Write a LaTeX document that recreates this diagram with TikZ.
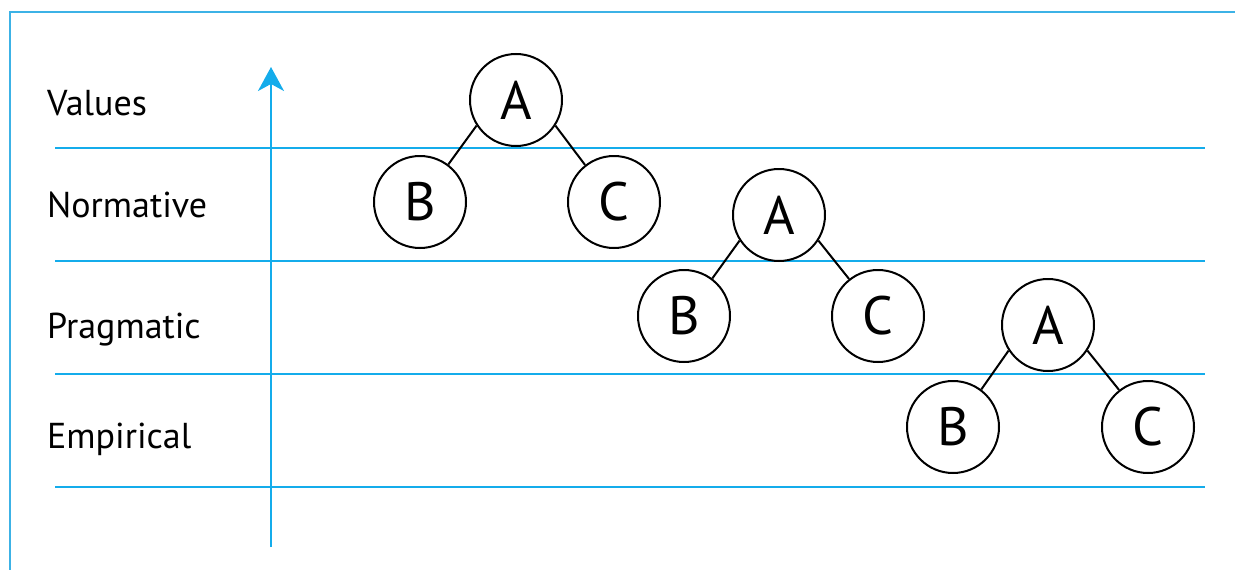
\documentclass[tikz,border=0pt]{standalone}
\usepackage{fontspec}
\setmainfont{PT Sans}
\usetikzlibrary{arrows.meta}
\definecolor{frameblue}{RGB}{60,178,230}
\definecolor{lineblue}{RGB}{20,172,235}
\begin{document}
\begin{tikzpicture}[x=1pt,y=-1pt,
  band/.style={draw=lineblue,line width=2pt},
  lab/.style={anchor=base west,inner sep=0pt,font=\fontsize{36}{42}\selectfont},
  tnode/.style={circle,draw=black,line width=2pt,minimum size=92pt,inner sep=0pt,font=\fontsize{54}{60}\selectfont},
  edge/.style={draw=black,line width=2pt}]
\useasboundingbox (0,0) rectangle (1235,570);
% frame
\draw[draw=frameblue,line width=2.5pt] (10,575) -- (10,12) -- (1240,12);
% bands
\foreach \y in {148,261,374,487} \draw[band] (55,\y) -- (1205,\y);
% axis
\coordinate (ax0) at (271,547);
\coordinate (ax1) at (271,67);
\draw[draw=lineblue,line width=2pt,-{Stealth[length=24pt,width=26pt,inset=7pt]}] (ax0) -- (ax1);
% labels
\node[lab] (v) at (47,115) {Values};
\node[lab] (n) at (47,217) {Normative};
\node[lab] (p) at (47,338) {Pragmatic};
\node[lab] (e) at (47,448) {Empirical};
% trees
\foreach \i/\ax/\ay/\bx/\by/\cx/\cy in {1/516/100/420/202/614/202, 2/779/215/684/316/878/316, 3/1048/325/953/427/1148/427}{
  \node[tnode] (A\i) at (\ax,\ay) {A};
  \node[tnode] (B\i) at (\bx,\by) {B};
  \node[tnode] (C\i) at (\cx,\cy) {C};
  \draw[edge] (A\i.213) -- (B\i.53);
  \draw[edge] (A\i.-33) -- (C\i.128);
}
\end{tikzpicture}
\end{document}
